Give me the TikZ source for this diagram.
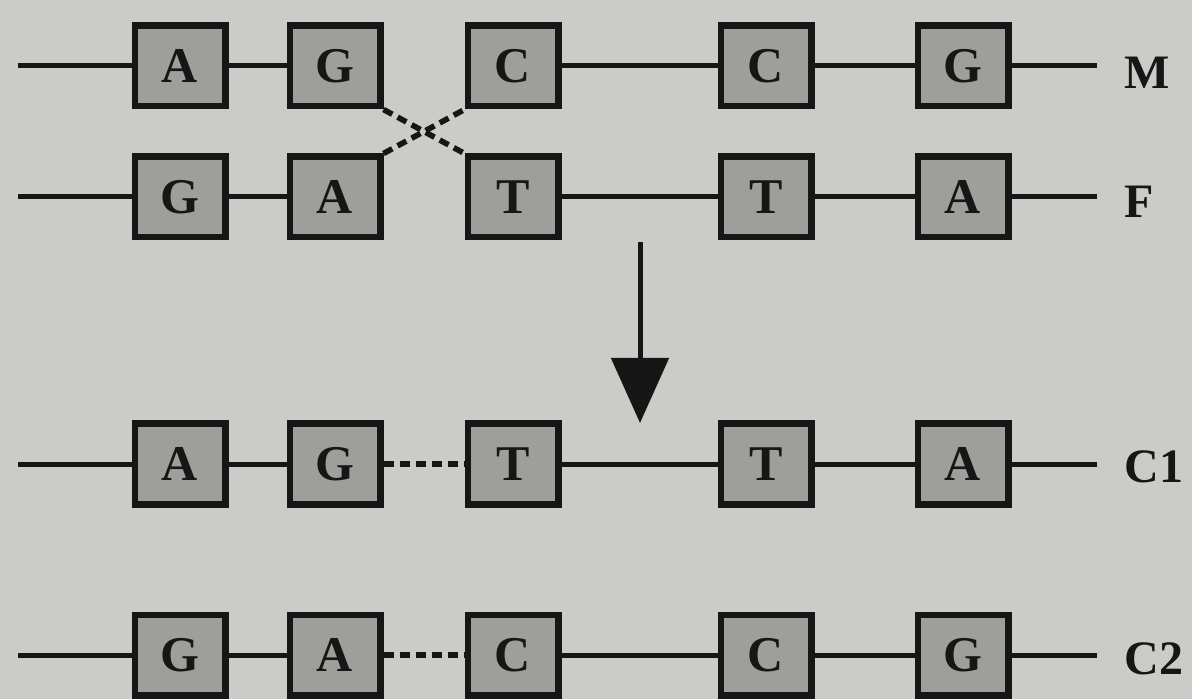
\documentclass[tikz,border=0pt]{standalone}
\usepackage{fontspec}
\setmainfont{Liberation Serif}
\usetikzlibrary{arrows.meta}
\definecolor{bg}{RGB}{203,203,199}
\definecolor{boxfill}{RGB}{158,158,155}
\definecolor{ink}{RGB}{22,22,22}
\begin{document}
\begin{tikzpicture}[x=0.5pt,y=-0.5pt,
  base/.style={draw=ink, line width=3.2pt, fill=boxfill, minimum width=45.3pt, minimum height=40.3pt, inner sep=0pt, font=\fontsize{25}{25}\selectfont\bfseries, text=ink},
  link/.style={draw=ink, line width=2.5pt},
  crossline/.style={draw=ink, line width=2.8pt, dash pattern=on 5pt off 3pt},
  lab/.style={anchor=west, inner sep=0pt, font=\fontsize{24}{24}\selectfont\bfseries, text=ink}]
\fill[bg] (0,0) rectangle (1192,699);
\useasboundingbox (0,0) rectangle (1192,699);
% row M
\node[base] (m1) at (180,66) {A};
\node[base] (m2) at (335,66) {G};
\node[base] (m3) at (513,66) {C};
\node[base] (m4) at (766,66) {C};
\node[base] (m5) at (963,66) {G};
% row F
\node[base] (f1) at (180,197) {G};
\node[base] (f2) at (335,197) {A};
\node[base] (f3) at (513,197) {T};
\node[base] (f4) at (766,197) {T};
\node[base] (f5) at (963,197) {A};
% row C1
\node[base] (a1) at (180,464) {A};
\node[base] (a2) at (335,464) {G};
\node[base] (a3) at (513,464) {T};
\node[base] (a4) at (766,464) {T};
\node[base] (a5) at (963,464) {A};
% row C2
\node[base] (b1) at (180,655) {G};
\node[base] (b2) at (335,655) {A};
\node[base] (b3) at (513,655) {C};
\node[base] (b4) at (766,655) {C};
\node[base] (b5) at (963,655) {G};
% free ends
\coordinate (mL) at (18,66);   \coordinate (mR) at (1097,66);
\coordinate (fL) at (18,197);  \coordinate (fR) at (1097,197);
\coordinate (aL) at (18,464);  \coordinate (aR) at (1097,464);
\coordinate (bL) at (18,655);  \coordinate (bR) at (1097,655);
% connectors
\draw[link] (mL) -- (m1); \draw[link] (m1) -- (m2); \draw[link] (m3) -- (m4); \draw[link] (m4) -- (m5); \draw[link] (m5) -- (mR);
\draw[link] (fL) -- (f1); \draw[link] (f1) -- (f2); \draw[link] (f3) -- (f4); \draw[link] (f4) -- (f5); \draw[link] (f5) -- (fR);
\draw[link] (aL) -- (a1); \draw[link] (a1) -- (a2); \draw[link] (a3) -- (a4); \draw[link] (a4) -- (a5); \draw[link] (a5) -- (aR);
\draw[link] (bL) -- (b1); \draw[link] (b1) -- (b2); \draw[link] (b3) -- (b4); \draw[link] (b4) -- (b5); \draw[link] (b5) -- (bR);
% crossover
\draw[crossline] (m2.south east) -- (f3.north west);
\draw[crossline] (f2.north east) -- (m3.south west);
\draw[crossline] (a2) -- (a3);
\draw[crossline] (b2) -- (b3);
% arrow
\coordinate (arS) at (640,242);
\coordinate (arE) at (640,423);
\draw[link, -{Triangle[length=32.5pt,width=28.5pt]}] (arS) -- (arE);
% labels
\node[lab] (lM) at (1124,73) {M};
\node[lab] (lF) at (1124,202) {F};
\node[lab] (lC1) at (1124,467) {C1};
\node[lab] (lC2) at (1124,659) {C2};
\end{tikzpicture}
\end{document}
